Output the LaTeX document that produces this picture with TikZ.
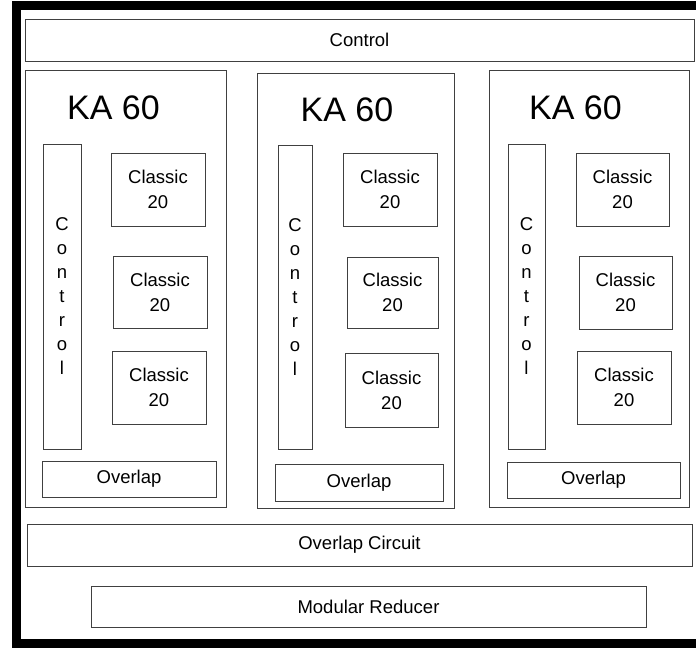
\documentclass[tikz,border=0pt]{standalone}
\usepackage{fontspec}
\setmainfont{Liberation Sans}
\begin{document}
\begin{tikzpicture}[x=1pt, y=-1pt,
    blk/.style={draw=black!75, line width=0.7pt, rectangle, inner sep=0pt, align=center,
      font=\fontsize{18.5}{25}\selectfont},
    sz/.style 2 args={minimum width=#1pt, minimum height=#2pt},
    bar/.style={blk, font=\fontsize{18.5}{24}\selectfont},
    title/.style={inner sep=0pt, font=\fontsize{34}{40}\selectfont}]
        \useasboundingbox (0,0) rectangle (696,650);
        \clip (0,0) rectangle (696,650);
        % Outer frame
        \draw[line width=9pt] (16,6) rectangle (720,643);
        % Top and bottom bands
        \node (ctrl)   at (359.5,40)  [blk, sz={669}{42}] {Control};
        \node (ovc)    at (359.5,545) [blk, sz={665}{42}] {Overlap Circuit};
        \node (modred) at (368.5,606.5) [blk, sz={555}{41}] {Modular Reducer};
        % KA 60 block (left)
        \node (ka1)    at (125.5,288.5) [blk, sz={201}{437}] {};
        \node (ka1lbl) at (113.5,108) [title] {KA 60};
        \node (ctrl1)  at (62,296.5)  [bar, sz={38}{305}] {C\\o\\n\\t\\r\\o\\l};
        \node (c11)    at (158,189.5) [blk, sz={94}{73}] {Classic\\20};
        \node (c12)    at (160,292)   [blk, sz={94}{72}] {Classic\\20};
        \node (c13)    at (159,387.5) [blk, sz={94}{73}] {Classic\\20};
        \node (ov1)    at (129,479)   [blk, sz={174}{36}] {Overlap};
        % KA 60 block (middle)
        \node (ka2)    at (355.5,290.5) [blk, sz={197}{435}] {};
        \node (ka2lbl) at (347,109.5) [title] {KA 60};
        \node (ctrl2)  at (295,297)   [bar, sz={34}{304}] {C\\o\\n\\t\\r\\o\\l};
        \node (c21)    at (390,189.5) [blk, sz={94}{73}] {Classic\\20};
        \node (c22)    at (392.5,292.5) [blk, sz={91}{71}] {Classic\\20};
        \node (c23)    at (391.5,390) [blk, sz={93}{74}] {Classic\\20};
        \node (ov2)    at (359,482.5) [blk, sz={168}{37}] {Overlap};
        % KA 60 block (right)
        \node (ka3)    at (589,288.5) [blk, sz={200}{437}] {};
        \node (ka3lbl) at (575.5,107.5) [title] {KA 60};
        \node (ctrl3)  at (526.5,296.5) [bar, sz={37}{305}] {C\\o\\n\\t\\r\\o\\l};
        \node (c31)    at (622.5,189.5) [blk, sz={93}{73}] {Classic\\20};
        \node (c32)    at (625.5,292.5) [blk, sz={93}{73}] {Classic\\20};
        \node (c33)    at (624,387.5) [blk, sz={94}{73}] {Classic\\20};
        \node (ov3)    at (593.5,480) [blk, sz={173}{36}] {Overlap};
      \end{tikzpicture}
\end{document}
